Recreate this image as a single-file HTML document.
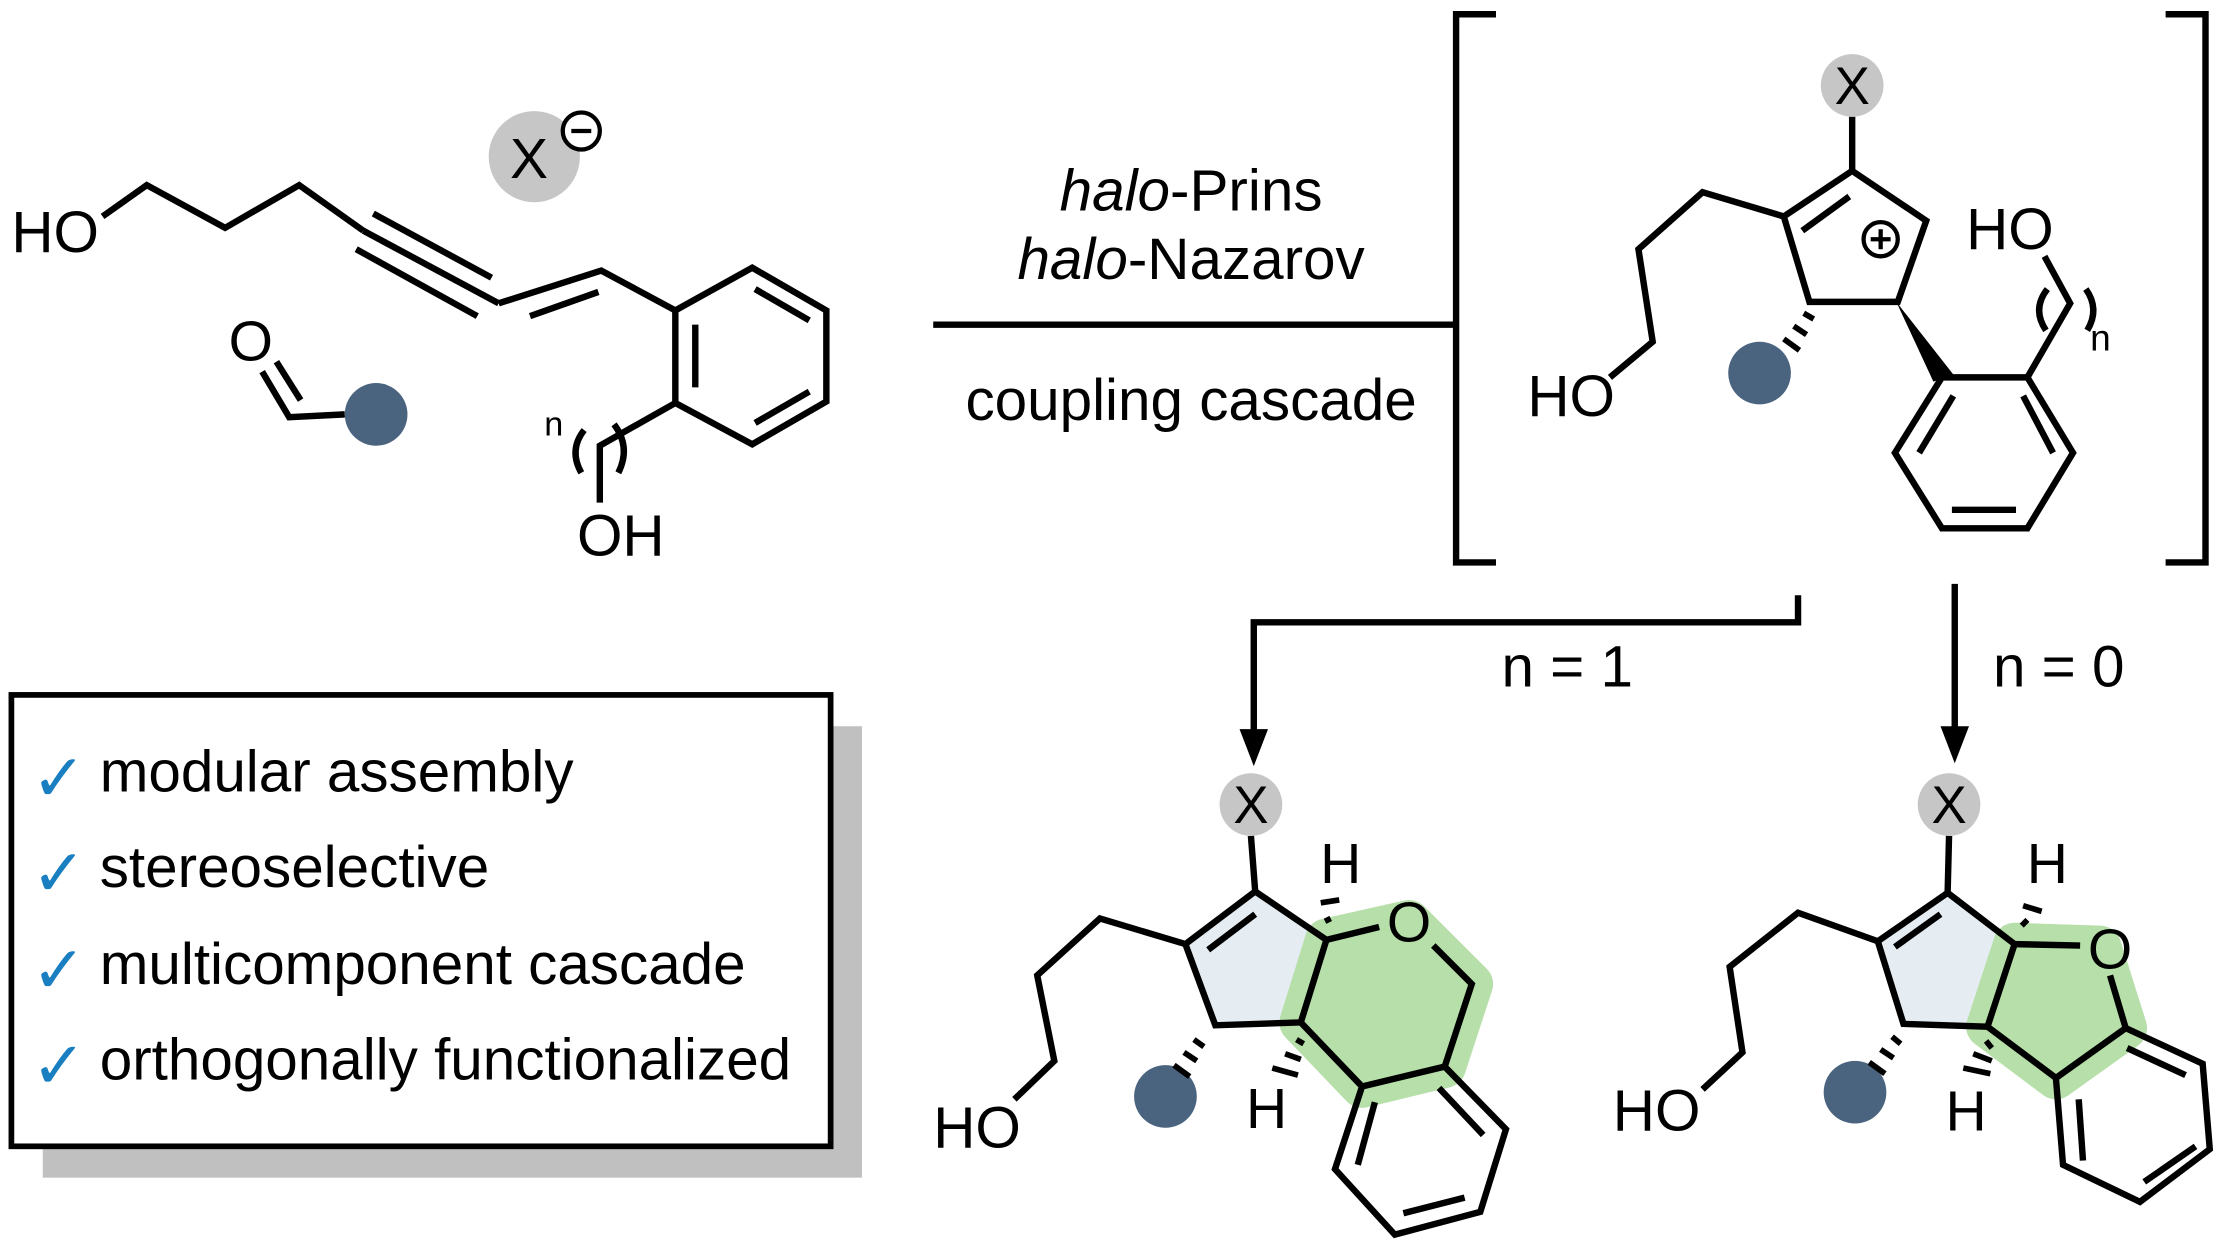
<!DOCTYPE html>
<html><head><meta charset="utf-8"><style>
html,body{margin:0;padding:0;background:#fff;}
svg{display:block}
text{font-family:"Liberation Sans",sans-serif;fill:#000}
</style></head><body>
<svg width="2234" height="1246" viewBox="0 0 1568 875" preserveAspectRatio="none" xmlns="http://www.w3.org/2000/svg">
<g stroke="#000" stroke-width="4.5" fill="none" stroke-linejoin="miter" stroke-linecap="butt">
<polyline points="72,152 103,130 158,160 210,130 255,162"/>
<line x1="255" y1="162" x2="350" y2="213"/>
<line x1="262" y1="150" x2="345" y2="195"/>
<line x1="250" y1="175" x2="335" y2="222"/>
<polyline points="350,213 422,190 474,218"/>
<line x1="372" y1="222" x2="420" y2="205"/>
<polygon points="474,218 528,188 580,218 580,282 528,312 474,283"/>
<line x1="488" y1="228" x2="488" y2="272"/>
<line x1="530" y1="203" x2="568" y2="225"/>
<line x1="530" y1="297" x2="568" y2="275"/>
<polyline points="474,283 421,313 421,353"/>
<path d="M410,302 Q399,316 408,332"/>
<path d="M431,298 Q443,314 434,332"/>
<polyline points="184,261 203,293 242,291"/>
<line x1="194" y1="254" x2="211" y2="281"/>
<line x1="655" y1="228" x2="1020" y2="228"/>
<polyline points="1050,10 1022,10 1022,395 1050,395"/>
<polyline points="1520,10 1548,10 1548,395 1520,395"/>
<line x1="1300" y1="82" x2="1300" y2="120"/>
<polygon points="1300,120 1352,155 1332,212 1270,212 1252,152"/>
<line x1="1265" y1="162" x2="1298" y2="138"/>
<polyline points="1252,152 1195,135 1150,175 1160,240 1130,265"/>
<polygon points="1363,265 1423,265 1455,318 1423,371 1363,371 1330,318"/>
<line x1="1347" y1="318" x2="1371" y2="278"/>
<line x1="1420" y1="278" x2="1441" y2="318"/>
<line x1="1370" y1="358" x2="1415" y2="358"/>
<polyline points="1423,265 1453,213 1435,180"/>
<path d="M1437,203 Q1426,217 1436,232"/>
<path d="M1464,203 Q1474,217 1465,232"/>
<polyline points="1262,418 1262,437 880,437 880,515"/>
<line x1="1372" y1="410" x2="1372" y2="515"/>
</g>
<circle cx="375" cy="110" r="32" fill="#c6c6c6"/>
<circle cx="408" cy="92" r="13" fill="#fff" stroke="#000" stroke-width="3"/>
<line x1="401" y1="92" x2="415" y2="92" stroke="#000" stroke-width="3"/>
<text x="358" y="125" font-size="40">X</text>
<circle cx="264" cy="291" r="22" fill="#4a6480"/>
<text x="176" y="253" font-size="40" text-anchor="middle">O</text>
<text x="8" y="177" font-size="41">HO</text>
<text x="405" y="390" font-size="41">OH</text>
<text x="382" y="306" font-size="24">n</text>
<text x="836" y="148" font-size="41" text-anchor="middle"><tspan font-style="italic">halo</tspan>-Prins</text>
<text x="836" y="196" font-size="41" text-anchor="middle"><tspan font-style="italic">halo</tspan>-Nazarov</text>
<text x="836" y="295" font-size="41" text-anchor="middle">coupling cascade</text>
<circle cx="1300" cy="60" r="22" fill="#c6c6c6"/>
<text x="1300" y="73" font-size="37" text-anchor="middle">X</text>
<circle cx="1320" cy="168" r="12" fill="#fff" stroke="#000" stroke-width="3"/>
<path d="M1313,168h14M1320,161v14" stroke="#000" stroke-width="3"/>
<g stroke="#000" stroke-width="4">
<line x1="1266" y1="220" x2="1273" y2="224"/><line x1="1259" y1="229" x2="1268" y2="235"/><line x1="1252" y1="238" x2="1263" y2="246"/>
</g>
<circle cx="1235" cy="262" r="22" fill="#4a6480"/>
<polygon points="1331,212 1371,263 1357,268" fill="#000"/>
<text x="1072" y="292" font-size="41">HO</text>
<text x="1380" y="175" font-size="41">HO</text>
<text x="1467" y="246" font-size="26">n</text>
<polygon points="870,512 890,512 880,538" fill="#000"/>
<polygon points="1362,510 1382,510 1372,536" fill="#000"/>
<text x="1100" y="482" font-size="41" text-anchor="middle">n = 1</text>
<text x="1445" y="482" font-size="41" text-anchor="middle">n = 0</text>
<rect x="30" y="510" width="575" height="317" fill="#c0c0c0"/>
<rect x="8" y="488" width="575" height="317" fill="#fff" stroke="#000" stroke-width="4"/>
<g font-size="41">
<text x="22" y="562" font-size="46" style="fill:#1a7fc1">✓</text><text x="70" y="556">modular assembly</text>
<text x="22" y="629" font-size="46" style="fill:#1a7fc1">✓</text><text x="70" y="623">stereoselective</text>
<text x="22" y="697" font-size="46" style="fill:#1a7fc1">✓</text><text x="70" y="691">multicomponent cascade</text>
<text x="22" y="764" font-size="46" style="fill:#1a7fc1">✓</text><text x="70" y="758">orthogonally functionalized</text>
</g>
<polygon points="881,626 931,660 913,718 853,720 832,663" fill="#e6edf2"/>
<polygon points="931,660 989,647 1033,691 1014,749 956,763 913,718" fill="#b7dfaa" stroke="#b7dfaa" stroke-width="30" stroke-linejoin="round"/>
<g stroke="#000" stroke-width="4.5" fill="none">
<line x1="878" y1="587" x2="881" y2="626"/>
<polygon points="881,626 931,660 913,718 853,720 832,663"/>
<line x1="848" y1="667" x2="881" y2="642"/>
<polyline points="832,663 772,645 728,685 740,745 712,772"/>
<line x1="931" y1="660" x2="968" y2="651"/>
<polyline points="1006,664 1033,691 1014,749"/>
<line x1="913" y1="718" x2="956" y2="763"/>
<polygon points="956,763 1014,749 1057,793 1039,851 979,867 937,821"/>
<line x1="965" y1="774" x2="953" y2="818"/>
<line x1="1010" y1="764" x2="1041" y2="797"/>
<line x1="985" y1="852" x2="1028" y2="841"/>
</g>
<circle cx="878" cy="565" r="22" fill="#c6c6c6"/>
<text x="878" y="578" font-size="37" text-anchor="middle">X</text>
<text x="989" y="661" font-size="40" text-anchor="middle">O</text>
<text x="941" y="620" font-size="40" text-anchor="middle">H</text>
<text x="889" y="792" font-size="40" text-anchor="middle">H</text>
<text x="655" y="806" font-size="41">HO</text>
<circle cx="818" cy="770" r="22" fill="#4a6480"/>
<g stroke="#000" stroke-width="4">
<line x1="838" y1="730" x2="845" y2="735"/><line x1="831" y1="739" x2="840" y2="745"/><line x1="824" y1="748" x2="835" y2="756"/>
<line x1="930" y1="647" x2="934" y2="645"/><line x1="927" y1="634" x2="940" y2="632"/>
<line x1="910" y1="730" x2="915" y2="733"/><line x1="902" y1="740" x2="913" y2="744"/><line x1="893" y1="750" x2="911" y2="755"/>
</g>
<polygon points="1367,627 1414,663 1395,721 1336,719 1318,661" fill="#e6edf2"/>
<polygon points="1414,663 1474,665 1492,722 1443,757 1395,721" fill="#b7dfaa" stroke="#b7dfaa" stroke-width="30" stroke-linejoin="round"/>
<g stroke="#000" stroke-width="4.5" fill="none">
<line x1="1368" y1="587" x2="1367" y2="627"/>
<polygon points="1367,627 1414,663 1395,721 1336,719 1318,661"/>
<line x1="1330" y1="665" x2="1362" y2="642"/>
<polyline points="1318,661 1262,641 1214,679 1223,739 1195,765"/>
<line x1="1414" y1="663" x2="1460" y2="664"/>
<line x1="1481" y1="685" x2="1492" y2="722"/>
<line x1="1395" y1="721" x2="1443" y2="757"/>
<polygon points="1443,757 1492,722 1546,747 1551,807 1502,844 1448,818"/>
<line x1="1493" y1="736" x2="1534" y2="755"/>
<line x1="1459" y1="772" x2="1462" y2="815"/>
<line x1="1505" y1="830" x2="1541" y2="805"/>
</g>
<circle cx="1368" cy="565" r="22" fill="#c6c6c6"/>
<text x="1368" y="578" font-size="37" text-anchor="middle">X</text>
<text x="1481" y="680" font-size="40" text-anchor="middle">O</text>
<text x="1437" y="620" font-size="40" text-anchor="middle">H</text>
<text x="1380" y="794" font-size="40" text-anchor="middle">H</text>
<text x="1132" y="794" font-size="41">HO</text>
<circle cx="1302" cy="767" r="22" fill="#4a6480"/>
<g stroke="#000" stroke-width="4">
<line x1="1328" y1="728" x2="1334" y2="733"/><line x1="1320" y1="737" x2="1329" y2="743"/><line x1="1312" y1="746" x2="1323" y2="754"/>
<line x1="1419" y1="650" x2="1423" y2="646"/><line x1="1420" y1="636" x2="1433" y2="640"/>
<line x1="1394" y1="731" x2="1398" y2="736"/><line x1="1385" y1="740" x2="1398" y2="745"/><line x1="1378" y1="750" x2="1397" y2="754"/>
</g>
</svg>
</body></html>
